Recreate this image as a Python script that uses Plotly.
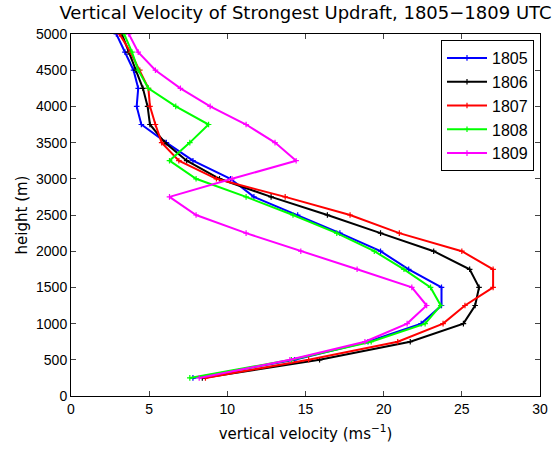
import plotly.graph_objects as go

heights = [250, 500, 750, 1000, 1250, 1500, 1750, 2000, 2250, 2500,
           2750, 3000, 3250, 3500, 3750, 4000, 4250, 4500, 4750, 5000]

v1805 = [7.8, 14.3, 19.0, 22.4, 23.7, 23.7, 21.6, 19.8, 17.2, 14.5,
         11.7, 10.2, 7.8, 6.1, 4.5, 4.2, 4.3, 4.0, 3.45, 2.9]
v1806 = [8.4, 15.9, 21.7, 25.1, 25.85, 26.1, 25.5, 23.2, 19.8, 16.4,
         12.8, 9.5, 7.4, 6.0, 5.05, 4.9, 4.6, 4.15, 3.65, 3.25]
v1807 = [8.6, 15.2, 20.9, 23.8, 25.2, 27.0, 27.0, 25.0, 21.0, 17.85,
         13.7, 9.3, 6.9, 5.8, 5.4, 5.05, 4.95, 4.4, 3.8, 3.1]
v1808 = [7.6, 14.1, 19.2, 22.65, 23.65, 23.0, 21.3, 19.4, 17.0, 14.2,
         11.2, 8.0, 6.3, 7.6, 8.8, 6.7, 4.95, 4.3, 3.9, 3.4]
v1809 = [8.2, 14.0, 18.8, 21.5, 22.75, 21.8, 18.3, 14.7, 11.2, 8.0,
         6.3, 10.3, 14.4, 13.05, 11.2, 8.9, 7.0, 5.4, 4.3, 3.7]

series = [("1805", v1805, "#0000FF"), ("1806", v1806, "#000000"),
          ("1807", v1807, "#FF0000"), ("1808", v1808, "#00FF00"),
          ("1809", v1809, "#FF00FF")]

x_ticks = [0, 5, 10, 15, 20, 25, 30]
y_ticks = [0, 500, 1000, 1500, 2000, 2500, 3000, 3500, 4000, 4500, 5000]

fig = go.Figure()
for name, vals, color in series:
    fig.add_trace(go.Scatter(
        x=vals, y=heights, name=name, mode="lines+markers",
        line=dict(color=color, width=2),
        marker=dict(symbol="cross-thin", size=4, line=dict(color=color, width=1.2), color=color),
    ))

font = "Liberation Sans, Arial, Helvetica, sans-serif"
wide = "DejaVu Sans, Verdana, sans-serif"
fig.update_layout(
    width=559, height=449,
    margin=dict(l=71, r=19, t=34, b=53, autoexpand=False),
    paper_bgcolor="white", plot_bgcolor="white",
    font=dict(family=font, size=14, color="black"),
    title=dict(text="Vertical Velocity of Strongest Updraft, 1805\u22121809 UTC",
               x=(71 + 540) / 2 / 559, xanchor="center", y=1 - 6 / 449, yanchor="top",
               font=dict(size=18, family=wide, color="black")),
    xaxis=dict(range=[0, 30], tickvals=x_ticks, ticks="inside", ticklen=5,
               showline=True, linecolor="black", linewidth=1, mirror="ticks",
               showgrid=False, zeroline=False, automargin=False,
               tickfont=dict(size=14, family=font),
               title=dict(text="vertical velocity (ms<sup>\u22121</sup>)",
                          font=dict(size=15, family=wide), standoff=12)),
    yaxis=dict(range=[0, 5000], tickvals=y_ticks, ticks="inside", ticklen=5,
               showline=True, linecolor="black", linewidth=1, mirror="ticks",
               showgrid=False, zeroline=False, automargin=False,
               tickfont=dict(size=14, family=font),
               title=dict(text="height (m)", font=dict(size=15, family=wide), standoff=4)),
    legend=dict(x=(534 - 71) / 469, xanchor="right", y=(396 - 40) / 362, yanchor="top",
                bgcolor="white", bordercolor="black", borderwidth=1,
                font=dict(size=16, family=font), tracegroupgap=0, itemwidth=40),
)

fig.write_html("out.html", config={"displayModeBar": False},
               post_script="document.body.style.margin='0';")
